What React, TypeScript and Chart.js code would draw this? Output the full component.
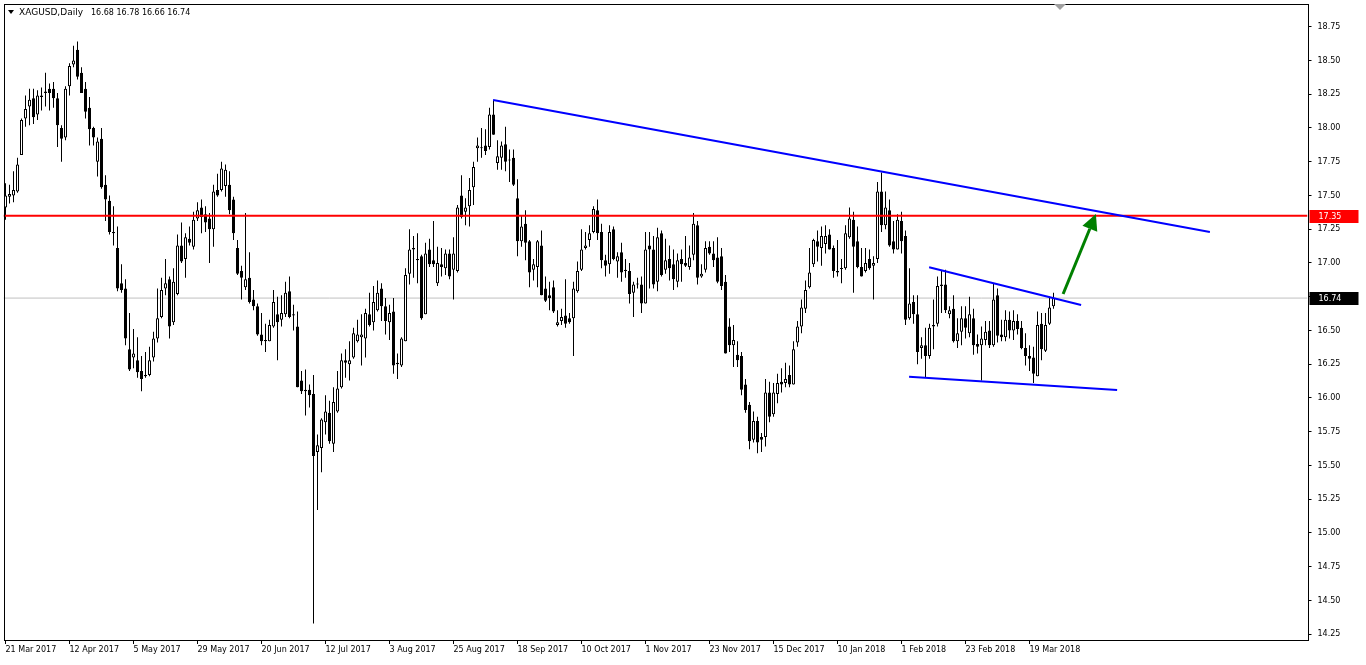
import React, { useEffect, useRef } from "react";
import { Chart, registerables } from "chart.js";

Chart.register(...registerables);

// ---------- data ----------
const dateLabels = [
  "21 Mar 2017", "12 Apr 2017", "5 May 2017", "29 May 2017", "20 Jun 2017", "12 Jul 2017",
  "3 Aug 2017", "25 Aug 2017", "18 Sep 2017", "10 Oct 2017", "1 Nov 2017", "23 Nov 2017",
  "15 Dec 2017", "10 Jan 2018", "1 Feb 2018", "23 Feb 2018", "19 Mar 2018",
];
const BARS_PER_LABEL = 16;
const TOTAL_SLOTS = 326;

const opens = [
  17.41,17.49,17.50,17.53,17.80,18.07,18.16,18.22,18.10,18.23,
  18.26,18.29,18.29,18.22,18.00,17.93,18.31,18.47,18.58,18.41,
  18.29,18.15,18.00,17.75,17.92,17.58,17.46,17.23,17.11,16.85,
  16.81,16.36,16.30,16.28,16.20,16.17,16.17,16.30,16.44,16.60,
  16.81,16.88,16.56,16.77,17.13,17.03,17.18,17.12,17.33,17.41,
  17.36,17.33,17.25,17.54,17.54,17.57,17.58,17.47,17.11,16.94,
  16.82,16.89,16.73,16.68,16.47,16.43,16.42,16.53,16.62,16.58,
  16.62,16.79,16.62,16.53,16.13,16.06,16.06,16.03,15.60,15.63,
  15.82,15.89,15.66,15.90,16.08,16.28,16.25,16.30,16.42,16.45,
  16.44,16.62,16.56,16.65,16.81,16.68,16.56,16.64,16.26,16.24,
  16.42,16.92,17.10,17.03,17.05,16.62,17.10,17.02,16.85,16.99,
  16.96,17.07,16.95,16.94,17.50,17.38,17.42,17.56,17.85,17.85,
  17.87,17.86,18.10,17.74,17.78,17.88,17.76,17.78,17.48,17.16,
  17.29,17.16,16.95,16.97,17.13,16.81,16.76,16.82,16.54,16.57,
  16.61,16.59,16.59,16.79,16.95,17.11,17.17,17.23,17.39,17.23,
  17.02,16.99,17.25,17.01,17.08,16.95,16.94,16.78,16.84,16.84,
  16.70,17.13,17.10,16.86,17.22,16.95,17.03,16.99,16.86,17.03,
  17.00,16.97,17.06,17.28,16.90,16.95,17.12,17.07,17.04,17.05,
  16.86,16.53,16.39,16.32,16.31,16.10,15.95,15.69,15.83,15.71,
  15.71,16.04,15.88,16.03,16.12,16.11,16.17,16.10,16.41,16.53,
  16.66,16.82,16.99,17.16,17.11,17.14,17.21,17.11,16.94,16.96,
  16.96,17.19,17.32,17.16,16.97,16.94,17.03,16.98,17.03,17.53,
  17.28,17.39,17.16,17.10,17.31,17.20,16.59,16.71,16.62,16.37,
  16.39,16.31,16.53,16.55,16.83,16.84,16.62,16.66,16.42,16.49,
  16.59,16.48,16.59,16.40,16.39,16.43,16.50,16.39,16.76,16.47,
  16.45,16.58,16.50,16.57,16.52,16.37,16.31,16.30,16.16,16.55,
  16.35,16.55,16.68,
];
const highs = [
  17.59,17.58,17.68,17.78,18.07,18.24,18.29,18.29,18.28,18.30,
  18.41,18.33,18.34,18.26,18.02,18.31,18.48,18.61,18.64,18.45,
  18.34,18.23,18.01,17.93,18.00,17.65,17.50,17.42,17.27,16.99,
  16.88,16.63,16.51,16.45,16.31,16.34,16.38,16.49,16.81,16.89,
  17.03,16.90,16.96,17.21,17.30,17.22,17.27,17.38,17.45,17.47,
  17.42,17.37,17.58,17.66,17.75,17.73,17.68,17.49,17.17,16.98,
  17.37,17.08,16.80,16.70,16.63,16.55,16.58,16.80,16.75,16.76,
  16.86,16.90,16.69,16.64,16.20,16.21,16.10,16.17,15.73,15.85,
  16.02,15.98,16.08,16.20,16.33,16.36,16.42,16.52,16.58,16.62,
  16.66,16.78,16.83,16.87,16.85,16.74,16.69,16.74,16.33,16.45,
  16.96,17.25,17.20,17.22,17.06,17.15,17.18,17.31,17.12,17.11,
  17.10,17.10,17.19,17.43,17.65,17.48,17.63,17.75,17.93,18.00,
  17.99,18.15,18.21,17.91,17.90,18.01,17.84,17.84,17.62,17.35,
  17.39,17.17,17.03,17.17,17.24,16.90,16.86,16.87,16.65,16.66,
  16.88,16.63,16.86,17.01,17.25,17.23,17.28,17.42,17.47,17.29,
  17.06,17.28,17.27,17.08,17.15,17.03,17.00,16.86,16.89,16.90,
  17.23,17.23,17.20,17.26,17.24,17.18,17.13,17.10,17.07,17.10,
  17.20,17.13,17.37,17.31,16.99,17.16,17.16,17.16,17.19,17.11,
  16.91,16.59,16.54,16.42,16.34,16.14,15.97,15.90,15.86,15.74,
  16.14,16.12,16.11,16.18,16.22,16.26,16.24,16.42,16.57,16.73,
  16.87,17.11,17.18,17.24,17.27,17.28,17.25,17.13,17.17,17.03,
  17.28,17.41,17.38,17.27,17.11,17.11,17.10,17.05,17.60,17.67,
  17.53,17.47,17.31,17.36,17.38,17.24,16.96,16.76,16.76,16.45,
  16.52,16.55,16.73,16.90,16.94,16.95,16.68,16.76,16.59,16.68,
  16.68,16.75,16.66,16.47,16.53,16.57,16.57,16.85,16.81,16.58,
  16.65,16.64,16.65,16.62,16.57,16.48,16.39,16.38,16.64,16.63,
  16.63,16.75,16.78,
];
const lows = [
  17.32,17.44,17.45,17.52,17.80,18.01,18.02,18.03,18.06,18.13,
  18.16,18.13,18.15,17.86,17.75,17.91,18.24,18.45,18.36,18.26,
  18.07,17.87,17.87,17.64,17.55,17.31,17.21,17.13,16.79,16.78,
  16.39,16.20,16.22,16.15,16.05,16.15,16.16,16.27,16.41,16.59,
  16.76,16.44,16.54,16.76,17.00,16.89,17.13,17.10,17.31,17.22,
  17.23,17.00,17.12,17.49,17.53,17.49,17.36,17.17,16.91,16.73,
  16.80,16.70,16.65,16.46,16.39,16.34,16.42,16.52,16.28,16.53,
  16.60,16.59,16.50,16.08,16.03,15.87,15.93,14.33,15.17,15.45,
  15.73,15.66,15.60,15.89,16.07,16.15,16.13,16.29,16.41,16.24,
  16.30,16.53,16.50,16.64,16.57,16.47,16.43,16.18,16.14,16.23,
  16.42,16.84,16.89,16.85,16.58,16.62,16.97,16.97,16.83,16.90,
  16.91,16.88,16.73,16.93,17.33,17.28,17.27,17.43,17.75,17.78,
  17.80,17.84,17.95,17.69,17.69,17.68,17.60,17.57,17.05,17.12,
  17.02,16.82,16.87,16.82,16.76,16.71,16.65,16.63,16.53,16.54,
  16.52,16.55,16.31,16.78,16.94,17.10,17.12,17.22,17.17,16.96,
  16.90,16.92,17.02,16.89,16.86,16.89,16.70,16.60,16.81,16.63,
  16.70,16.81,16.81,16.79,16.90,16.92,16.87,16.80,16.82,16.86,
  16.97,16.95,17.02,16.84,16.89,16.93,17.06,16.97,16.85,16.80,
  16.33,16.34,16.23,16.23,16.02,15.89,15.62,15.67,15.59,15.60,
  15.64,15.82,15.86,15.96,16.04,16.08,16.08,16.10,16.38,16.48,
  16.63,16.81,16.97,17.01,16.98,17.07,17.10,16.89,16.90,16.85,
  16.95,17.18,16.78,16.96,16.90,16.93,16.95,16.73,17.00,17.23,
  17.25,17.12,17.07,17.10,17.07,16.54,16.58,16.55,16.25,16.29,
  16.15,16.29,16.36,16.53,16.63,16.63,16.59,16.41,16.37,16.39,
  16.44,16.45,16.32,16.33,16.13,16.39,16.37,16.38,16.41,16.42,
  16.42,16.44,16.43,16.47,16.36,16.24,16.20,16.11,16.16,16.28,
  16.34,16.54,16.66,
];
const closes = [
  17.50,17.51,17.54,17.73,18.06,18.14,18.21,18.08,18.24,18.24,
  18.27,18.26,18.22,18.02,17.92,18.29,18.46,18.50,18.38,18.26,
  18.12,17.99,17.93,17.90,17.56,17.47,17.23,17.22,16.81,16.80,
  16.44,16.21,16.33,16.19,16.14,16.16,16.28,16.44,16.59,16.80,
  16.85,16.53,16.86,17.13,17.01,17.19,17.15,17.32,17.39,17.34,
  17.30,17.25,17.53,17.50,17.70,17.69,17.39,17.22,16.92,16.89,
  16.88,16.71,16.68,16.47,16.42,16.42,16.54,16.71,16.56,16.63,
  16.78,16.60,16.61,16.08,16.05,16.05,16.02,15.57,15.65,15.84,
  15.90,15.68,15.97,16.07,16.28,16.26,16.28,16.48,16.47,16.47,
  16.63,16.54,16.71,16.78,16.68,16.57,16.63,16.24,16.25,16.44,
  16.91,17.10,17.11,17.02,16.59,17.07,16.99,16.99,17.00,16.97,
  17.07,16.90,17.07,17.41,17.34,17.41,17.54,17.71,17.87,17.85,
  17.83,18.10,17.95,17.79,17.87,17.75,17.76,17.58,17.16,17.27,
  17.15,16.93,16.99,17.16,16.76,16.72,16.74,16.64,16.56,16.60,
  16.55,16.56,16.81,16.94,17.10,17.13,17.22,17.40,17.22,17.02,
  16.98,17.23,17.03,17.05,16.93,16.94,16.77,16.84,16.845,16.70,
  17.10,17.10,16.84,17.19,16.91,17.02,16.96,16.88,17.02,16.99,
  16.98,17.04,17.29,16.89,16.92,17.11,17.07,17.02,16.86,16.83,
  16.33,16.39,16.43,16.28,16.06,15.91,15.68,15.83,15.67,15.69,
  16.04,15.86,16.04,16.11,16.10,16.14,16.10,16.36,16.53,16.67,
  16.80,16.93,17.17,17.12,17.20,17.20,17.10,16.94,16.93,16.955,
  17.22,17.33,17.12,16.97,16.90,17.00,16.96,17.00,17.53,17.28,
  17.41,17.13,17.10,17.32,17.16,16.58,16.70,16.62,16.34,16.39,
  16.31,16.52,16.54,16.83,16.84,16.65,16.65,16.42,16.48,16.59,
  16.52,16.62,16.39,16.38,16.44,16.49,16.39,16.73,16.46,16.45,
  16.58,16.50,16.57,16.51,16.37,16.31,16.29,16.18,16.54,16.36,
  16.54,16.67,16.74,
];

const priceTicks = [14.25,14.5,14.75,15,15.25,15.5,15.75,16,16.25,16.5,16.75,17,17.25,17.5,17.75,18,18.25,18.5,18.75];
const Y_MIN = 14.207;
const Y_MAX = 18.911;

const resistanceLevel = 17.35;
const bidPrice = 16.74;
const headerSymbol = "XAGUSD,Daily";
const headerOHLC = "16.68 16.78 16.66 16.74";

// trend lines: [start, end] in bar index / price
const upperTrendX = [121.9, 301.1];
const upperTrendY = [18.207, 17.23];
const wedgeTopX = [230.9, 268.9];
const wedgeTopY = [16.968, 16.689];
const wedgeBottomX = [225.9, 277.9];
const wedgeBottomY = [16.158, 16.059];
const arrowX = [264.4, 272.6];
const arrowY = [16.77, 17.363];

const FONT = "DejaVu Sans";

const slotLabels = Array.from({ length: TOTAL_SLOTS }, (_, i) =>
  i % BARS_PER_LABEL === 0 && dateLabels[i / BARS_PER_LABEL] ? dateLabels[i / BARS_PER_LABEL] : "s" + i
);

const seg = (xs: number[], ys: number[]) => xs.map((x, i) => ({ x, y: ys[i] }));

const overlayPlugin = {
  id: "mt4overlay",
  beforeDraw(chart: any) {
    const ctx = chart.ctx;
    ctx.save();
    ctx.fillStyle = "#ffffff";
    ctx.fillRect(0, 0, chart.width, chart.height);
    ctx.restore();
  },
  afterDatasetsDraw(chart: any) {
    const ctx = chart.ctx;
    const xs = chart.scales.x2;
    const ys = chart.scales.y;
    const sx = xs.getPixelForValue(arrowX[0]);
    const sy = ys.getPixelForValue(arrowY[0]);
    const tx = xs.getPixelForValue(arrowX[1]);
    const ty = ys.getPixelForValue(arrowY[1]);
    const ang = Math.atan2(ty - sy, tx - sx);
    const headLen = 16;
    const headW = 8;
    const bx = tx - headLen * Math.cos(ang);
    const by = ty - headLen * Math.sin(ang);
    ctx.save();
    ctx.strokeStyle = "#008000";
    ctx.fillStyle = "#008000";
    ctx.lineWidth = 3;
    ctx.beginPath();
    ctx.moveTo(sx, sy);
    ctx.lineTo(bx, by);
    ctx.stroke();
    ctx.beginPath();
    ctx.moveTo(tx, ty);
    ctx.lineTo(bx + headW * Math.sin(ang), by - headW * Math.cos(ang));
    ctx.lineTo(bx - headW * Math.sin(ang), by + headW * Math.cos(ang));
    ctx.closePath();
    ctx.fill();
    ctx.restore();
  },
  afterDraw(chart: any) {
    const ctx = chart.ctx;
    const a = chart.chartArea;
    const ys = chart.scales.y;
    ctx.save();
    // frame
    ctx.strokeStyle = "#000000";
    ctx.lineWidth = 1;
    const L = Math.floor(a.left) + 0.5 + 1;
    const R = Math.round(a.right) + 0.5;
    const T = Math.round(a.top) - 0.5;
    const B = Math.round(a.bottom) + 0.5;
    ctx.strokeRect(L, T, R - L, B - T);
    // price boxes on the right axis
    const box = (v: number, bg: string) => {
      const py = Math.round(ys.getPixelForValue(v));
      ctx.fillStyle = bg;
      ctx.fillRect(R + 1, py - 6, 49, 13);
      ctx.fillStyle = "#ffffff";
      ctx.font = `8px "${FONT}"`;
      ctx.textAlign = "left";
      ctx.textBaseline = "middle";
      ctx.fillText(v.toFixed(2), R + 10, py + 0.5);
    };
    box(resistanceLevel, "#ff0000");
    box(bidPrice, "#000000");
    // header
    ctx.fillStyle = "#000000";
    ctx.beginPath();
    ctx.moveTo(8, 10);
    ctx.lineTo(14, 10);
    ctx.lineTo(11, 14);
    ctx.closePath();
    ctx.fill();
    ctx.textAlign = "left";
    ctx.textBaseline = "middle";
    ctx.font = `9px "${FONT}"`;
    ctx.fillText(headerSymbol, 19, 12.5);
    ctx.font = `8px "${FONT}"`;
    ctx.fillText(headerOHLC, 91, 12.5);
    // chart shift marker
    ctx.fillStyle = "#a0a0a0";
    ctx.beginPath();
    ctx.moveTo(1054, 4);
    ctx.lineTo(1066, 4);
    ctx.lineTo(1060, 10);
    ctx.closePath();
    ctx.fill();
    ctx.restore();
  },
};

export default function App() {
  const ref = useRef<HTMLCanvasElement>(null);
  useEffect(() => {
    const canvas = ref.current;
    if (!canvas) return;
    Chart.defaults.font.family = FONT;
    const bodyColors = opens.map((o, i) => (closes[i] >= o ? "#ffffff" : "#000000"));
    const chart = new Chart(canvas, {
      type: "bar",
      data: {
        labels: slotLabels,
        datasets: [
          {
            type: "line",
            data: seg(upperTrendX, upperTrendY),
            xAxisID: "x2",
            yAxisID: "y",
            borderColor: "#0000ff",
            borderWidth: 2,
            pointRadius: 0,
            order: 0,
          } as any,
          {
            type: "line",
            data: seg(wedgeTopX, wedgeTopY),
            xAxisID: "x2",
            yAxisID: "y",
            borderColor: "#0000ff",
            borderWidth: 2,
            pointRadius: 0,
            order: 0,
          } as any,
          {
            type: "line",
            data: seg(wedgeBottomX, wedgeBottomY),
            xAxisID: "x2",
            yAxisID: "y",
            borderColor: "#0000ff",
            borderWidth: 2,
            pointRadius: 0,
            order: 0,
          } as any,
          {
            type: "line",
            data: [{ x: -0.5, y: resistanceLevel }, { x: TOTAL_SLOTS - 0.5, y: resistanceLevel }],
            xAxisID: "x2",
            yAxisID: "y",
            borderColor: "#ff0000",
            borderWidth: 2,
            pointRadius: 0,
            order: 1,
          } as any,
          {
            type: "bar",
            data: opens.map((o, i) => [o, closes[i]]),
            xAxisID: "x",
            yAxisID: "y",
            backgroundColor: bodyColors,
            borderColor: "#000000",
            borderWidth: 1,
            borderSkipped: false,
            barThickness: 3,
            minBarLength: 1,
            grouped: false,
            inflateAmount: 0,
            order: 2,
          } as any,
          {
            type: "bar",
            data: lows.map((l, i) => [l, highs[i]]),
            xAxisID: "x",
            yAxisID: "y",
            backgroundColor: "#000000",
            borderWidth: 0,
            barThickness: 1,
            grouped: false,
            inflateAmount: 0,
            order: 3,
          } as any,
          {
            type: "line",
            data: [{ x: -0.5, y: bidPrice }, { x: TOTAL_SLOTS - 0.5, y: bidPrice }],
            xAxisID: "x2",
            yAxisID: "y",
            borderColor: "#c0c0c0",
            borderWidth: 1,
            pointRadius: 0,
            order: 4,
          } as any,
        ],
      },
      options: {
        animation: false,
        responsive: false,
        devicePixelRatio: 1,
        events: [],
        layout: { padding: { left: 3.5, top: 5, right: 0, bottom: 0 } },
        plugins: { legend: { display: false }, tooltip: { enabled: false }, title: { display: false } },
        scales: {
          x: {
            type: "category",
            offset: true,
            grid: { display: true, drawOnChartArea: false, drawTicks: true, tickLength: 4, color: "#000000", offset: false },
            border: { display: false },
            ticks: {
              autoSkip: false,
              maxRotation: 0,
              minRotation: 0,
              align: "start",
              padding: 1,
              color: "#000000",
              font: { family: FONT, size: 8 },
            },
            afterBuildTicks: (s: any) => {
              s.ticks = s.ticks.filter(
                (t: any) => t.value % BARS_PER_LABEL === 0 && t.value / BARS_PER_LABEL < dateLabels.length
              );
            },
            afterFit: (s: any) => {
              s.height = 25;
              s.paddingLeft = 0;
              s.paddingRight = 0;
            },
          },
          x2: {
            type: "linear",
            display: false,
            min: -0.5,
            max: TOTAL_SLOTS - 0.5,
            offset: false,
          },
          y: {
            type: "linear",
            position: "right",
            min: Y_MIN,
            max: Y_MAX,
            grid: { display: true, drawOnChartArea: false, drawTicks: true, tickLength: 4, color: "#000000" },
            border: { display: false },
            ticks: {
              padding: 6,
              color: "#000000",
              font: { family: FONT, size: 8 },
              callback: (v: any) => Number(v).toFixed(2),
            },
            afterBuildTicks: (s: any) => {
              s.ticks = priceTicks.map((v) => ({ value: v }));
            },
            afterFit: (s: any) => {
              s.width = 58.5;
              s.paddingTop = 0;
              s.paddingBottom = 0;
            },
          },
        },
      } as any,
      plugins: [overlayPlugin],
    });
    return () => chart.destroy();
  }, []);
  return (
    <div style={{ position: "fixed", left: 0, top: 0, width: 1366, height: 665, background: "#ffffff" }}>
      <canvas ref={ref} width={1366} height={665} style={{ display: "block", width: 1366, height: 665 }} />
    </div>
  );
}
